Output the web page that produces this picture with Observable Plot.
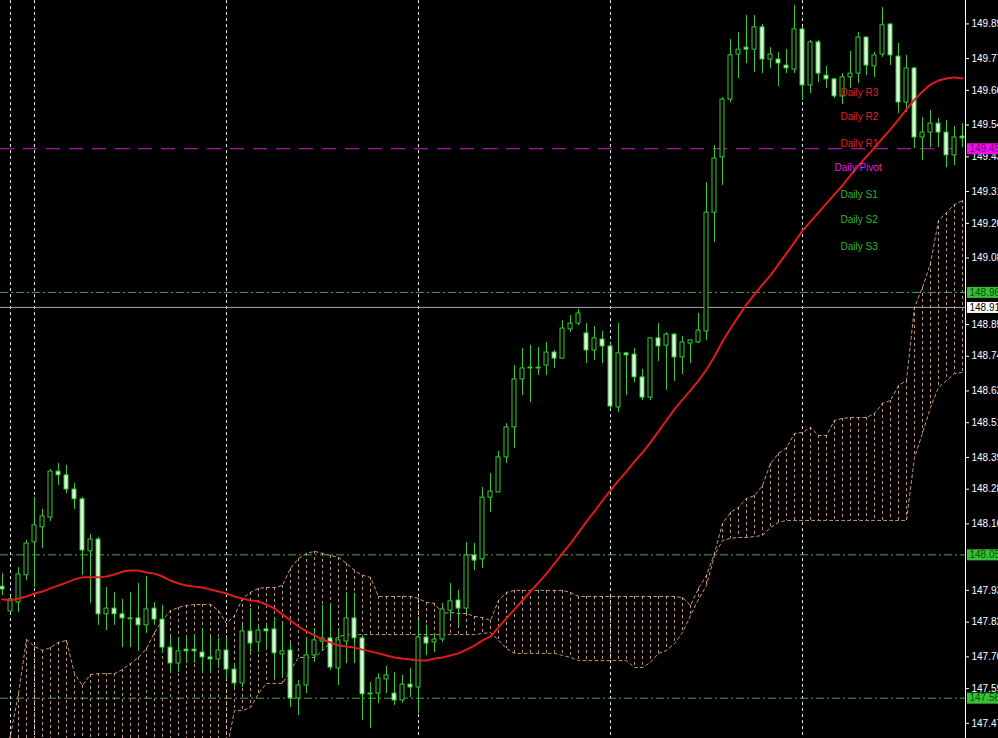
<!DOCTYPE html>
<html><head><meta charset="utf-8">
<script src="https://cdn.jsdelivr.net/npm/d3@7"></script>
<script src="https://cdn.jsdelivr.net/npm/@observablehq/plot@0.6"></script>
<style>html,body{margin:0;padding:0;background:#000;overflow:hidden}</style>
</head><body><div id="chart"></div>
<script>
// ---- OHLC (bar index 0..120) ----
const opens = [147.943,147.857,147.888,147.982,148.096,148.148,148.182,148.341,148.328,148.279,
148.245,148.065,148.106,147.847,147.867,147.847,147.833,147.833,147.809,147.867,
147.829,147.732,147.677,147.725,147.725,147.715,147.698,147.691,147.722,147.656,
147.608,147.788,147.750,147.795,147.795,147.708,147.722,147.556,147.601,147.705,
147.753,147.764,147.660,147.753,147.833,147.764,147.573,147.573,147.622,147.573,
147.549,147.604,147.594,147.767,147.750,147.760,147.860,147.895,147.867,148.051,
148.037,148.251,148.269,148.390,148.494,148.660,148.701,148.701,148.708,148.753,
148.732,148.833,148.853,148.819,148.760,148.798,148.774,148.563,148.750,148.746,
148.667,148.597,148.802,148.777,148.815,148.736,148.784,148.788,148.826,149.237,
149.428,149.628,149.784,149.808,149.801,149.878,149.767,149.767,149.746,149.732,
149.871,149.677,149.826,149.711,149.698,149.639,149.705,149.718,149.843,149.743,
149.784,149.888,149.777,149.618,149.736,149.497,149.514,149.545,149.514,149.435,
149.500];
const highs = [147.988,147.905,148.009,148.103,148.251,148.210,148.348,148.369,148.362,148.300,
148.251,148.123,148.113,147.940,147.923,147.899,147.923,147.954,147.978,147.888,
147.878,147.767,147.767,147.767,147.777,147.798,147.767,147.764,147.764,147.677,
147.809,147.867,147.809,147.815,147.836,147.819,147.746,147.618,147.764,147.798,
147.878,147.885,147.798,147.923,147.919,147.774,147.611,147.642,147.667,147.646,
147.636,147.660,147.826,147.809,147.781,147.885,147.954,147.930,148.096,148.092,
148.286,148.334,148.411,148.507,148.708,148.767,148.777,148.770,148.788,148.760,
148.864,148.881,148.902,148.853,148.843,148.826,148.784,148.853,148.753,148.767,
148.694,148.805,148.853,148.822,148.819,148.808,148.795,148.888,149.341,149.469,
149.635,149.836,149.860,149.919,149.919,149.888,149.808,149.791,149.801,149.954,
149.878,149.833,149.833,149.743,149.701,149.718,149.795,149.860,149.843,149.791,
149.947,149.891,149.822,149.781,149.739,149.566,149.590,149.563,149.556,149.535,
149.545];
const lows = [147.912,147.854,147.854,147.964,147.940,148.075,148.168,148.293,148.265,148.210,
147.982,147.885,147.809,147.791,147.809,147.732,147.732,147.719,147.781,147.809,
147.712,147.642,147.646,147.677,147.677,147.642,147.642,147.660,147.622,147.594,
147.594,147.715,147.715,147.729,147.622,147.629,147.525,147.497,147.573,147.681,
147.722,147.653,147.601,147.677,147.677,147.480,147.452,147.539,147.573,147.532,
147.539,147.559,147.504,147.705,147.715,147.750,147.833,147.802,147.850,147.999,
148.006,148.200,148.269,148.369,148.421,148.604,148.580,148.674,148.674,148.698,
148.729,148.822,148.846,148.715,148.725,148.715,148.559,148.546,148.604,148.649,
148.587,148.587,148.722,148.622,148.653,148.677,148.715,148.784,148.795,149.134,
149.331,149.618,149.701,149.753,149.722,149.718,149.736,149.673,149.718,149.718,
149.625,149.649,149.687,149.667,149.632,149.611,149.667,149.684,149.711,149.705,
149.774,149.746,149.580,149.583,149.459,149.417,149.462,149.462,149.393,149.400,
149.462];
const closes = [147.933,147.899,147.985,148.092,148.155,148.186,148.341,148.328,148.279,148.245,
148.068,148.106,147.847,147.867,147.847,147.833,147.830,147.809,147.864,147.829,
147.732,147.677,147.719,147.719,147.719,147.698,147.691,147.722,147.656,147.608,
147.788,147.746,147.791,147.788,147.712,147.719,147.556,147.601,147.705,147.757,
147.764,147.663,147.757,147.833,147.764,147.570,147.570,147.625,147.636,147.549,
147.604,147.594,147.767,147.746,147.760,147.864,147.892,147.867,148.051,148.033,
148.251,148.272,148.390,148.494,148.660,148.698,148.698,148.698,148.753,148.732,
148.836,148.853,148.888,148.760,148.802,148.774,148.566,148.750,148.743,148.667,
148.597,148.802,148.774,148.815,148.736,148.788,148.795,148.829,149.237,149.424,
149.628,149.781,149.801,149.801,149.878,149.767,149.784,149.753,149.736,149.871,
149.677,149.826,149.718,149.698,149.639,149.705,149.718,149.843,149.746,149.781,
149.885,149.781,149.618,149.736,149.497,149.514,149.545,149.514,149.435,149.497,
149.494];

// ---- Moving average (red) ----
const maLine = [147.899,147.895,147.902,147.909,147.919,147.926,147.937,147.947,147.957,147.968,
147.975,147.975,147.975,147.978,147.985,147.995,147.999,147.999,147.992,147.988,
147.978,147.964,147.954,147.947,147.943,147.940,147.933,147.926,147.919,147.909,
147.902,147.895,147.892,147.881,147.867,147.847,147.826,147.805,147.788,147.774,
147.760,147.750,147.739,147.736,147.732,147.725,147.719,147.712,147.705,147.698,
147.694,147.691,147.687,147.687,147.694,147.698,147.705,147.712,147.725,147.739,
147.757,147.770,147.802,147.833,147.864,147.895,147.926,147.957,147.988,148.023,
148.058,148.092,148.130,148.168,148.203,148.241,148.276,148.310,148.341,148.376,
148.407,148.442,148.480,148.518,148.556,148.590,148.622,148.656,148.694,148.739,
148.791,148.836,148.878,148.919,148.954,148.988,149.020,149.058,149.096,149.134,
149.175,149.206,149.237,149.269,149.300,149.331,149.366,149.400,149.431,149.462,
149.494,149.525,149.559,149.594,149.628,149.656,149.680,149.694,149.701,149.705,
149.701];

// ---- Ichimoku cloud spans ----
const senkouA = [147.376,147.428,147.573,147.760,147.736,147.722,147.732,147.750,147.757,147.642,
147.601,147.639,147.642,147.642,147.642,147.656,147.677,147.698,147.729,147.784,
147.826,147.860,147.871,147.878,147.881,147.881,147.881,147.860,147.815,147.843,
147.902,147.923,147.937,147.940,147.940,147.947,148.006,148.040,148.058,148.065,
148.058,148.051,148.044,148.023,147.999,147.982,147.975,147.909,147.909,147.909,
147.909,147.909,147.902,147.888,147.885,147.850,147.854,147.850,147.850,147.840,
147.836,147.826,147.895,147.923,147.930,147.930,147.930,147.930,147.930,147.930,
147.930,147.923,147.909,147.909,147.909,147.909,147.909,147.909,147.909,147.909,
147.909,147.909,147.909,147.909,147.909,147.905,147.878,147.937,147.982,148.058,
148.161,148.200,148.217,148.248,148.258,148.293,148.369,148.404,148.424,148.473,
148.476,148.494,148.466,148.466,148.518,148.525,148.528,148.528,148.528,148.542,
148.577,148.587,148.639,148.656,148.909,148.978,149.061,149.210,149.237,149.265,
149.279];
const senkouB = [147.33,147.33,147.33,147.33,147.33,147.33,147.33,147.33,147.33,147.33,
147.33,147.33,147.33,147.33,147.33,147.33,147.33,147.33,147.33,147.33,
147.33,147.33,147.33,147.33,147.33,147.33,147.33,147.33,147.376,147.514,
147.514,147.525,147.573,147.608,147.608,147.608,147.653,147.698,147.698,147.698,
147.722,147.750,147.770,147.777,147.777,147.777,147.777,147.777,147.777,147.777,
147.777,147.777,147.777,147.777,147.777,147.777,147.777,147.777,147.777,147.777,
147.781,147.784,147.757,147.729,147.712,147.712,147.712,147.712,147.712,147.712,
147.705,147.698,147.687,147.687,147.687,147.687,147.687,147.687,147.687,147.663,
147.663,147.681,147.712,147.722,147.746,147.784,147.843,147.899,147.947,148.051,
148.103,148.110,148.113,148.113,148.116,148.120,148.148,148.165,148.172,148.172,
148.172,148.172,148.172,148.172,148.172,148.172,148.172,148.172,148.172,148.172,
148.172,148.172,148.172,148.172,148.390,148.473,148.563,148.632,148.656,148.680,
148.684];

// ---- Axis tick labels (148.97 and 148.05 sit under the level boxes) ----
const yTicks = [149.89,149.77,149.66,149.54,149.43,149.31,149.20,149.08,148.85,148.74,
148.62,148.51,148.39,148.28,148.16,147.93,147.82,147.70,147.59,147.47];

// ---- Horizontal price levels ----
const levelPrices = [149.458, 148.961, 148.909, 148.053, 147.557];
const levelLabels = ["149.45", "148.96", "148.91", "148.05", "147.56"];
const levelKinds  = ["pivot", "green", "bid", "green", "green"];

// ---- Daily pivot labels ----
const pivotNames  = ["Daily R3", "Daily R2", "Daily R1", "Daily Pivot", "Daily S1", "Daily S2", "Daily S3"];
const pivotPrices = [149.653, 149.570, 149.476, 149.393, 149.300, 149.213, 149.120];

// ---- Vertical grid (bar indices) ----
const gridBars = [1, 4, 28, 52, 76, 100];

const bars = opens.map((o, i) => ({i, o, h: highs[i], l: lows[i], c: closes[i], ma: maLine[i], a: senkouA[i], b: senkouB[i]}));
const levels = levelPrices.map((p, k) => ({p, label: levelLabels[k], kind: levelKinds[k]}));
const pivots = pivotNames.map((n, k) => ({n, p: pivotPrices[k]}));

const GREEN = "#33cc33";
const CLOUD = "#eab08c";
const boxFill = {pivot: "#ee10ee", green: "#36c036", bid: "#ffffff"};
const boxText = {pivot: "#7a007a", green: "#0b4d0b", bid: "#000000"};
const pivotColor = n => n.includes("R") ? "#e42020" : n.includes("Pivot") ? "#e020e0" : "#33b333";

const chart = Plot.plot({
  width: 998, height: 738,
  marginLeft: 0, marginRight: 33, marginTop: 0, marginBottom: 0,
  style: {background: "#000", color: "#fff", fontFamily: "Arial, 'Liberation Sans', sans-serif", fontSize: "10px", overflow: "hidden"},
  x: {domain: [-0.25, 120.375], axis: null},
  y: {domain: [147.4175, 149.971], axis: "right", ticks: yTicks, tickFormat: d3.format(".2f"),
      tickSize: 3, tickPadding: 3, line: true, label: null},
  marks: [
    Plot.ruleX(gridBars, {x: d => d, stroke: "#e6e6e6", strokeDasharray: "3,3"}),
    Plot.ruleX(bars, {x: "i", y1: "a", y2: "b", stroke: CLOUD, strokeOpacity: 0.85, strokeDasharray: "3,3", clip: true}),
    Plot.line(bars, {x: "i", y: "a", stroke: CLOUD, strokeWidth: 1, strokeOpacity: 0.85, strokeDasharray: "3,3", clip: true}),
    Plot.line(bars, {x: "i", y: "b", stroke: CLOUD, strokeWidth: 1, strokeOpacity: 0.85, strokeDasharray: "3,3", clip: true}),
    Plot.ruleY(levels.filter(d => d.kind === "green"), {y: "p", stroke: "#3fae3f", strokeDasharray: "8,3,2,3"}),
    Plot.ruleY(levels.filter(d => d.kind === "bid"), {y: "p", stroke: "#a8a8b0"}),
    Plot.ruleY(levels.filter(d => d.kind === "pivot"), {y: "p", stroke: "#cc22cc", strokeDasharray: "14,9"}),
    Plot.ruleX(bars, {x: "i", y1: "l", y2: "h", stroke: GREEN, clip: true}),
    Plot.rect(bars, {x1: d => d.i - 0.25, x2: d => d.i + 0.25, y1: "o", y2: "c",
      fill: d => d.c > d.o ? "#000000" : "#e4fae4", stroke: GREEN, clip: true}),
    Plot.line(bars, {x: "i", y: "ma", stroke: "#e01b1b", strokeWidth: 2, clip: true}),
    Plot.text(pivots, {x: d => d.n === "Daily Pivot" ? 104 : 104.75, y: "p", text: "n",
      textAnchor: "start", fill: d => pivotColor(d.n), fontSize: 10}),
    Plot.ruleY(levels, {y: "p", stroke: d => boxFill[d.kind], strokeWidth: 11, insetLeft: 967, insetRight: -33}),
    Plot.text(levels, {y: "p", text: "label", frameAnchor: "right", textAnchor: "start", dx: 4,
      fill: d => boxText[d.kind], fontSize: 10})
  ]
});
document.getElementById("chart").appendChild(chart);
</script>
</body></html>
